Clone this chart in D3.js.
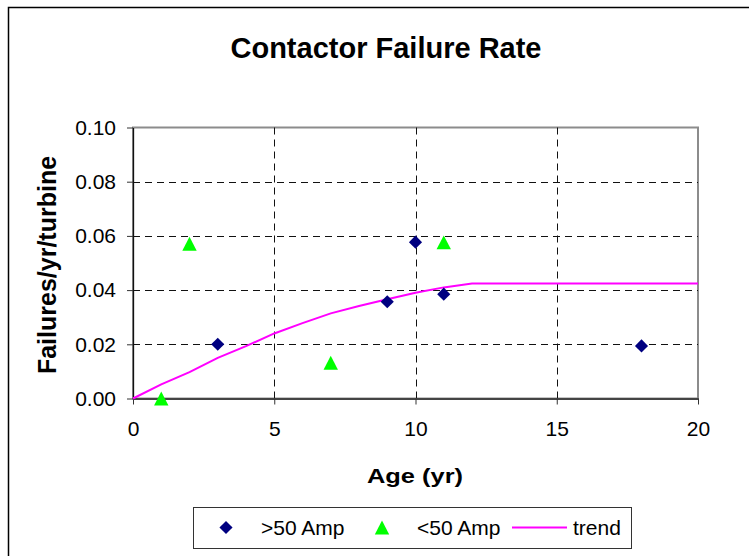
<!DOCTYPE html>
<html>
<head>
<meta charset="utf-8">
<script src="https://cdn.jsdelivr.net/npm/d3@7"></script>
<style>
  body { margin: 0; background: #fff; }
  svg { display: block; font-family: "Liberation Sans", Arial, sans-serif; }
</style>
</head>
<body>
<div id="chart"></div>
<script>
// data
const bigAge = [3, 9, 10, 11, 18]
const bigRate = [0.020, 0.0357, 0.0577, 0.0385, 0.0194]

const smallAge = [1, 2, 7, 11]
const smallRate = [0.0, 0.0571, 0.0132, 0.0576]

const trendAge = [0, 1, 2, 3, 4, 5, 6, 7, 8, 9, 10, 11, 12, 20]
const trendRate = [0, 0.0052, 0.0097, 0.0150, 0.0193, 0.0240, 0.0278, 0.0314, 0.0341, 0.0366, 0.0390, 0.0410, 0.0424, 0.0424]

const xTicks = [0, 5, 10, 15, 20]
const yTicks = [0, 0.02, 0.04, 0.06, 0.08, 0.10]

const WIDTH = 749
const HEIGHT = 556
const PLOT = { LEFT: 133, RIGHT: 698, TOP: 127.5, BOTTOM: 398.5 }

const svg = d3.select("#chart").append("svg")
  .attr("width", WIDTH)
  .attr("height", HEIGHT)

// outer chart frame (runs off the right and bottom edge)
svg.append("rect")
  .attr("x", 8.5).attr("y", 7.5)
  .attr("width", 800).attr("height", 600)
  .attr("fill", "white")
  .attr("stroke", "#000")
  .attr("stroke-width", 1.5)

const x = d3.scaleLinear().domain([0, 20]).range([PLOT.LEFT, PLOT.RIGHT])
const y = d3.scaleLinear().domain([0, 0.1]).range([PLOT.BOTTOM, PLOT.TOP])

// plot area border
svg.append("rect")
  .attr("x", PLOT.LEFT).attr("y", PLOT.TOP)
  .attr("width", PLOT.RIGHT - PLOT.LEFT)
  .attr("height", PLOT.BOTTOM - PLOT.TOP)
  .attr("fill", "white")
  .attr("stroke", "#8c8c8c")
  .attr("stroke-width", 2)

// dashed gridlines
svg.append("g").selectAll("line")
  .data(yTicks.filter(d => d > 0 && d < 0.1))
  .enter().append("line")
  .attr("x1", PLOT.LEFT).attr("x2", PLOT.RIGHT)
  .attr("y1", d => Math.round(y(d)) + 0.5)
  .attr("y2", d => Math.round(y(d)) + 0.5)
  .attr("stroke", "#111")
  .attr("stroke-dasharray", "7,5")

svg.append("g").selectAll("line")
  .data(xTicks.filter(d => d > 0 && d < 20))
  .enter().append("line")
  .attr("y1", PLOT.TOP).attr("y2", PLOT.BOTTOM)
  .attr("x1", d => Math.round(x(d)) + 0.5)
  .attr("x2", d => Math.round(x(d)) + 0.5)
  .attr("stroke", "#111")
  .attr("stroke-dasharray", "7,5")

// axes
const yAxis = svg.append("g")
  .attr("transform", `translate(${PLOT.LEFT},0)`)
  .call(d3.axisLeft(y).tickValues(yTicks).tickFormat(d3.format(".2f"))
    .tickSize(6).tickSizeOuter(0).tickPadding(11))
yAxis.select(".domain").attr("stroke", "#111").attr("stroke-width", 1.3)

const xAxis = svg.append("g")
  .attr("transform", `translate(0,${PLOT.BOTTOM})`)
  .call(d3.axisBottom(x).tickValues(xTicks)
    .tickSize(6).tickSizeOuter(0).tickPadding(17))
xAxis.select(".domain").attr("stroke", "#444").attr("stroke-width", 2)

svg.selectAll(".tick text")
  .attr("font-size", 21)
  .attr("font-family", "Liberation Sans, Arial, sans-serif")
  .attr("fill", "#000")
svg.selectAll(".tick line").attr("stroke", "#333")

// trend line
const trend = trendAge.map((d, i) => ({ age: d, rate: trendRate[i] }))
svg.append("path")
  .datum(trend)
  .attr("d", d3.line().x(d => x(d.age)).y(d => y(d.rate)))
  .attr("fill", "none")
  .attr("stroke", "#ff00ff")
  .attr("stroke-width", 2)

const diamond = d3.symbol().type(d3.symbolSquare).size(86)
const triangle = "M0,-6.9L7.2,6.9L-7.2,6.9Z"

svg.append("g").selectAll("path")
  .data(bigAge.map((d, i) => ({ age: d, rate: bigRate[i] })))
  .enter().append("path")
  .attr("d", diamond)
  .attr("transform", d => `translate(${x(d.age)},${y(d.rate)}) rotate(45)`)
  .attr("fill", "#000080")

svg.append("g").selectAll("path")
  .data(smallAge.map((d, i) => ({ age: d, rate: smallRate[i] })))
  .enter().append("path")
  .attr("d", triangle)
  .attr("transform", d => `translate(${x(d.age)},${y(d.rate)})`)
  .attr("fill", "#00ff00")

// titles
svg.append("text")
  .attr("x", 386).attr("y", 57.5)
  .attr("text-anchor", "middle")
  .attr("font-size", 29).attr("font-weight", "bold")
  .text("Contactor Failure Rate")

svg.append("text")
  .attr("x", 367).attr("y", 483)
  .attr("font-size", 21).attr("font-weight", "bold")
  .attr("textLength", 96).attr("lengthAdjust", "spacingAndGlyphs")
  .text("Age (yr)")

svg.append("text")
  .attr("transform", "translate(56,265) rotate(-90)")
  .attr("text-anchor", "middle")
  .attr("font-size", 25).attr("font-weight", "bold")
  .text("Failures/yr/turbine")

// legend
const legend = svg.append("g")
legend.append("rect")
  .attr("x", 193.5).attr("y", 507.5)
  .attr("width", 438).attr("height", 41)
  .attr("fill", "white")
  .attr("stroke", "#333")

const LY = 527.5
legend.append("path").attr("d", diamond)
  .attr("transform", `translate(226,${LY}) rotate(45)`)
  .attr("fill", "#000080")
legend.append("text").attr("x", 261).attr("y", LY + 7.5)
  .attr("font-size", 21).text(">50 Amp")

legend.append("path").attr("d", triangle)
  .attr("transform", `translate(382,${LY})`)
  .attr("fill", "#00ff00")
legend.append("text").attr("x", 417).attr("y", LY + 7.5)
  .attr("font-size", 21).text("<50 Amp")

legend.append("line")
  .attr("x1", 512).attr("x2", 567)
  .attr("y1", LY).attr("y2", LY)
  .attr("stroke", "#ff00ff").attr("stroke-width", 2)
legend.append("text").attr("x", 573).attr("y", LY + 7.5)
  .attr("font-size", 21).text("trend")
</script>
</body>
</html>
